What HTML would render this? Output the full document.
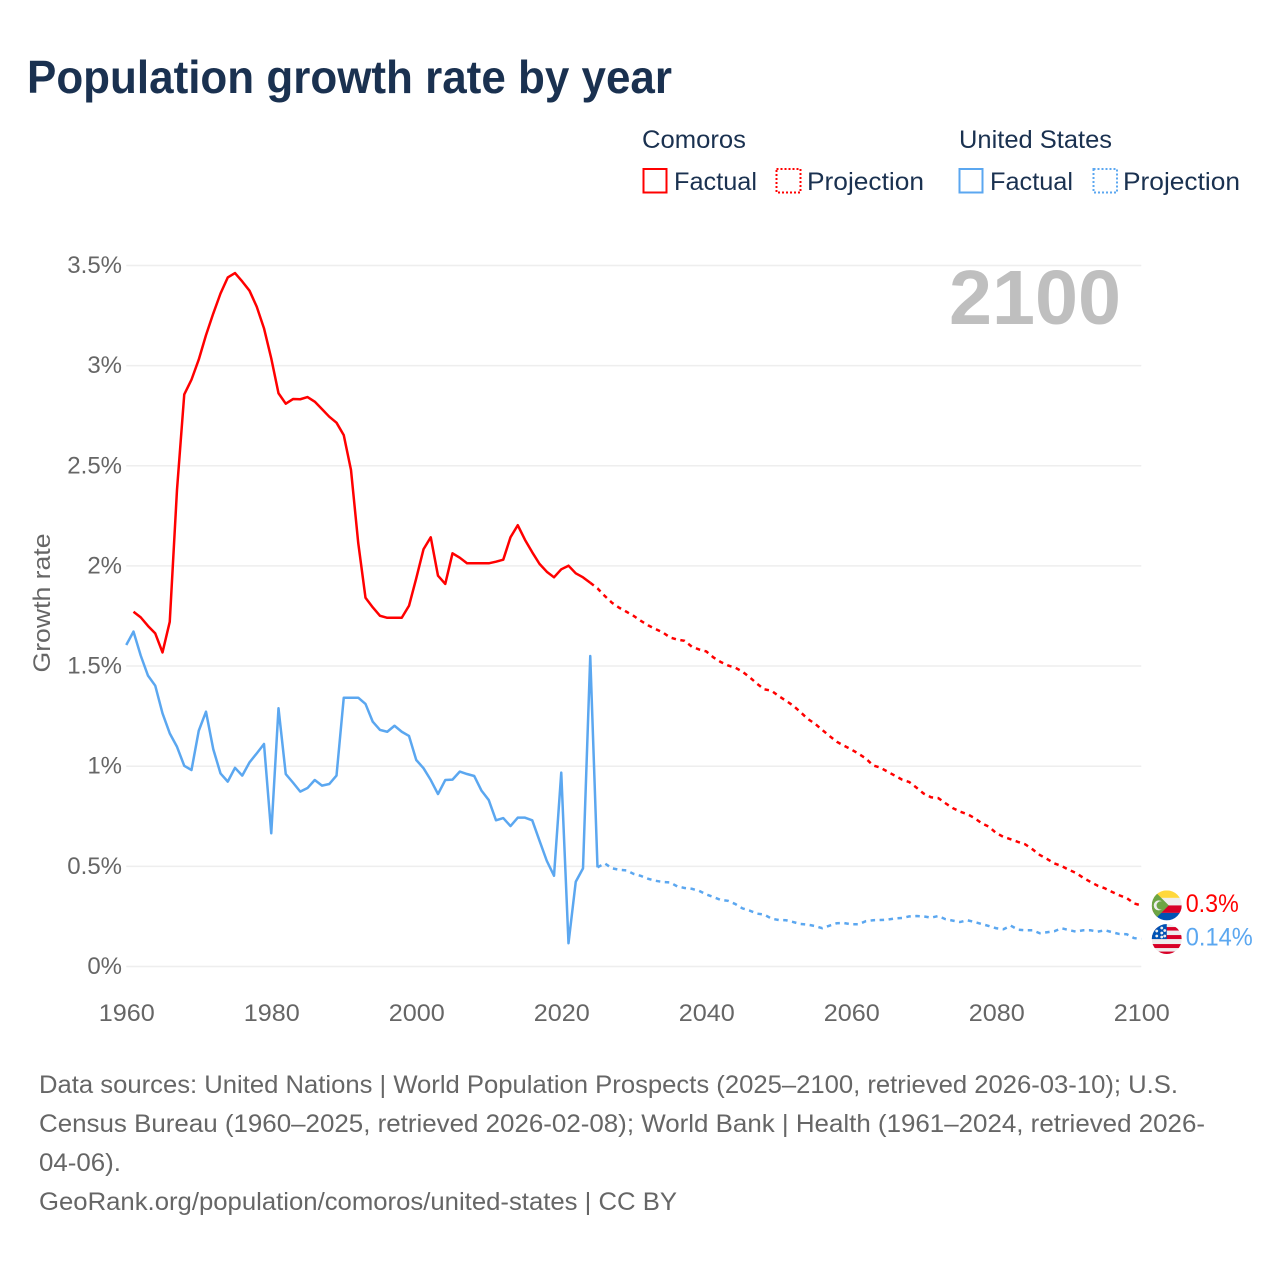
<!DOCTYPE html>
<html lang="en">
<head>
<meta charset="utf-8">
<title>Population growth rate by year</title>
<style>
html,body{margin:0;padding:0;background:#fff;width:1280px;height:1280px;overflow:hidden}
svg{display:block;font-family:"Liberation Sans",sans-serif}
</style>
</head>
<body>
<svg id="chart" xmlns="http://www.w3.org/2000/svg" width="1280" height="1280" viewBox="0 0 1280 1280">
  <defs>
    <clipPath id="flag-clip-a"><circle cx="0" cy="0" r="15"/></clipPath>
  </defs>
  <rect x="0" y="0" width="1280" height="1280" fill="#fff"/>
  <text x="27" y="93" font-size="46" font-weight="700" fill="#1a3150" textLength="645" lengthAdjust="spacingAndGlyphs">Population growth rate by year</text>

  <g font-size="25" fill="#1a3150">
    <text x="642" y="148" textLength="104" lengthAdjust="spacingAndGlyphs">Comoros</text>
    <text x="959" y="148" textLength="153" lengthAdjust="spacingAndGlyphs">United States</text>
    <g>
      <rect x="643.5" y="169" width="23" height="23.5" fill="none" stroke="#ff0000" stroke-width="2"/>
      <text x="674" y="190" textLength="83" lengthAdjust="spacingAndGlyphs">Factual</text>
    </g>
    <g>
      <rect x="776.5" y="169" width="24" height="23.5" fill="none" stroke="#ff0000" stroke-width="2" stroke-dasharray="2 2"/>
      <text x="807" y="190" textLength="117" lengthAdjust="spacingAndGlyphs">Projection</text>
    </g>
    <g>
      <rect x="959.5" y="169" width="23" height="23.5" fill="none" stroke="#5ba7f0" stroke-width="2"/>
      <text x="990" y="190" textLength="83" lengthAdjust="spacingAndGlyphs">Factual</text>
    </g>
    <g>
      <rect x="1093.5" y="169" width="23.5" height="23.5" fill="none" stroke="#5ba7f0" stroke-width="2" stroke-dasharray="2 2"/>
      <text x="1123" y="190" textLength="117" lengthAdjust="spacingAndGlyphs">Projection</text>
    </g>
  </g>

  <g id="grid"></g>
  <g id="y-ticks"></g>
  <g id="x-ticks"></g>

  <text transform="translate(50,603) rotate(-90)" text-anchor="middle" font-size="24" fill="#666" textLength="139" lengthAdjust="spacingAndGlyphs">Growth rate</text>
  <text x="949" y="324" font-size="77" font-weight="700" fill="#bfbfbf" textLength="172" lengthAdjust="spacingAndGlyphs">2100</text>

  <g id="series"></g>
  <g id="end-markers"></g>

  <g font-size="25" fill="#666">
    <text x="39" y="1093" textLength="1139" lengthAdjust="spacingAndGlyphs">Data sources: United Nations | World Population Prospects (2025–2100, retrieved 2026-03-10); U.S.</text>
    <text x="39" y="1132" textLength="1166" lengthAdjust="spacingAndGlyphs">Census Bureau (1960–2025, retrieved 2026-02-08); World Bank | Health (1961–2024, retrieved 2026-</text>
    <text x="39" y="1171" textLength="82" lengthAdjust="spacingAndGlyphs">04-06).</text>
    <text x="39" y="1210" textLength="638" lengthAdjust="spacingAndGlyphs">GeoRank.org/population/comoros/united-states | CC BY</text>
  </g>
</svg>

<script>
const yTickValues = [0, 0.5, 1, 1.5, 2, 2.5, 3, 3.5];
const yTickLabels = ["0%", "0.5%", "1%", "1.5%", "2%", "2.5%", "3%", "3.5%"];
const xTickYears = [1960, 1980, 2000, 2020, 2040, 2060, 2080, 2100];
const xTickLabels = ["1960", "1980", "2000", "2020", "2040", "2060", "2080", "2100"];

const comorosFactualStart = 1961;
const comorosFactual = [
  1.771, 1.743, 1.70, 1.663, 1.568, 1.721, 2.38, 2.856, 2.93, 3.03,
  3.152, 3.26, 3.36, 3.44, 3.462, 3.42, 3.374, 3.294, 3.186, 3.036,
  2.862, 2.81, 2.833, 2.832, 2.843, 2.82, 2.783, 2.745, 2.715, 2.653,
  2.479, 2.114, 1.841, 1.793, 1.751, 1.741, 1.741, 1.741, 1.801, 1.938,
  2.083, 2.143, 1.951, 1.91, 2.063, 2.041, 2.013, 2.013, 2.013, 2.013,
  2.021, 2.031, 2.143, 2.203, 2.13, 2.068, 2.01, 1.971, 1.943, 1.983,
  2.001, 1.963, 1.943, 1.916
];

const comorosProjectionStart = 2024;
const comorosProjection = [
  1.916, 1.888, 1.85, 1.816, 1.791, 1.771, 1.75, 1.725, 1.703, 1.685, 1.668,
  1.643, 1.632, 1.626, 1.597, 1.583, 1.573, 1.543, 1.52, 1.503, 1.492,
  1.472, 1.444, 1.412, 1.384, 1.377, 1.35, 1.327, 1.302, 1.27, 1.236,
  1.212, 1.181, 1.151, 1.122, 1.102, 1.084, 1.062, 1.039, 1.004, 0.993,
  0.973, 0.953, 0.933, 0.921, 0.893, 0.863, 0.845, 0.841, 0.815, 0.791,
  0.773, 0.761, 0.741, 0.715, 0.698, 0.666, 0.647, 0.635, 0.622, 0.61,
  0.585, 0.557, 0.537, 0.515, 0.502, 0.483, 0.467, 0.443, 0.422, 0.403,
  0.39, 0.372, 0.355, 0.342, 0.315, 0.305
];

const usFactualStart = 1960;
const usFactual = [
  1.605, 1.672, 1.552, 1.452, 1.402, 1.264, 1.164, 1.097, 1.002, 0.981,
  1.177, 1.272, 1.085, 0.964, 0.923, 0.992, 0.953, 1.019, 1.064, 1.111,
  0.665, 1.289, 0.961, 0.918, 0.873, 0.891, 0.931, 0.903, 0.911, 0.953,
  1.342, 1.342, 1.342, 1.311, 1.222, 1.181, 1.172, 1.202, 1.172, 1.151,
  1.031, 0.99, 0.931, 0.861, 0.931, 0.933, 0.973, 0.961, 0.951, 0.878,
  0.831, 0.73, 0.741, 0.701, 0.743, 0.743, 0.73, 0.628, 0.528, 0.453,
  0.968, 0.116, 0.423, 0.49, 1.55, 0.495
];

const usProjectionStart = 2025;
const usProjection = [
  0.495, 0.515, 0.49, 0.483, 0.48, 0.462, 0.452, 0.438, 0.428, 0.422,
  0.42, 0.40, 0.392, 0.388, 0.378, 0.36, 0.347, 0.332, 0.328, 0.312,
  0.29, 0.279, 0.264, 0.259, 0.239, 0.232, 0.231, 0.222, 0.212, 0.209,
  0.202, 0.191, 0.204, 0.216, 0.217, 0.211, 0.211, 0.226, 0.231, 0.232,
  0.234, 0.24, 0.242, 0.25, 0.252, 0.25, 0.244, 0.252, 0.236, 0.229,
  0.222, 0.231, 0.222, 0.212, 0.202, 0.191, 0.186, 0.204, 0.184, 0.181,
  0.181, 0.166, 0.171, 0.176, 0.191, 0.182, 0.174, 0.181, 0.181, 0.174,
  0.181, 0.171, 0.162, 0.161, 0.142, 0.137
];

const comorosEndLabel = "0.3%";
const usEndLabel = "0.14%";

const NS = 'http://www.w3.org/2000/svg';
const RED = '#ff0000';
const BLUE = '#5ba7f0';

function xScale(year) { return 126.25 + (year - 1960) * 7.25; }
function yScale(value) { return 966.5 - value * 200.3; }

function make(tag, attrs, parent) {
  const el = document.createElementNS(NS, tag);
  for (const k in attrs) el.setAttribute(k, attrs[k]);
  parent.appendChild(el);
  return el;
}

function pointsFor(values, startYear) {
  return values.map((v, i) => xScale(startYear + i).toFixed(2) + ',' + yScale(v).toFixed(2)).join(' ');
}

const grid = document.getElementById('grid');
const yTicks = document.getElementById('y-ticks');
const xTicks = document.getElementById('x-ticks');
const seriesGroup = document.getElementById('series');
const markers = document.getElementById('end-markers');

yTickValues.forEach((v, i) => {
  const line = make('line', { x1: xScale(1960), x2: xScale(2100), y1: yScale(v), y2: yScale(v), stroke: '#eeeeee', 'stroke-width': 1.5 }, grid);
  
  
  const t = make('text', { x: 122, y: yScale(v) + 7.5, 'text-anchor': 'end', 'font-size': 24, fill: '#666' }, yTicks);
  
  
  t.textContent = yTickLabels[i];
});

xTickYears.forEach((yr, i) => {
  const t = make('text', { x: xScale(yr) - 27.5, y: 1021, 'font-size': 24, fill: '#666', textLength: 56, lengthAdjust: 'spacingAndGlyphs' }, xTicks);
  
  
  t.textContent = xTickLabels[i];
});

const usFactualLine = make('polyline', { points: pointsFor(usFactual, usFactualStart), fill: 'none', stroke: BLUE, 'stroke-width': 2.5, 'stroke-linejoin': 'round' }, seriesGroup);



const usProjectionLine = make('polyline', { points: pointsFor(usProjection, usProjectionStart), fill: 'none', stroke: BLUE, 'stroke-width': 2.5, 'stroke-dasharray': '4.5 4.5' }, seriesGroup);



const comorosFactualLine = make('polyline', { points: pointsFor(comorosFactual, comorosFactualStart), fill: 'none', stroke: RED, 'stroke-width': 2.5, 'stroke-linejoin': 'round' }, seriesGroup);



const comorosProjectionLine = make('polyline', { points: pointsFor(comorosProjection, comorosProjectionStart), fill: 'none', stroke: RED, 'stroke-width': 2.5, 'stroke-dasharray': '4.5 4.5' }, seriesGroup);



/* End-of-line flags and value labels follow the last value of each series */
const flagX = xScale(2100) + 25.5;
const comorosY = yScale(comorosProjection[comorosProjection.length - 1]);
const usY = yScale(usProjection[usProjection.length - 1]);

const comorosFlag = make('g', { transform: 'translate(' + flagX + ',' + comorosY + ')', 'clip-path': 'url(#flag-clip-a)' }, markers);


make('rect', { x: -15, y: -15, width: 30, height: 7.5, fill: '#ffd83d' }, comorosFlag);
make('rect', { x: -15, y: -7.5, width: 30, height: 7.5, fill: '#eeeeee' }, comorosFlag);
make('rect', { x: -15, y: 0, width: 30, height: 7.5, fill: '#d80027' }, comorosFlag);
make('rect', { x: -15, y: 7.5, width: 30, height: 7.5, fill: '#0052b4' }, comorosFlag);
make('path', { d: 'M-15,-15 L-13,-15 L2,0 L-13,15 L-15,15 Z', fill: '#6da544' }, comorosFlag);
make('circle', { cx: -8, cy: 0, r: 5, fill: '#eeeeee' }, comorosFlag);
make('circle', { cx: -6, cy: 0, r: 4.2, fill: '#6da544' }, comorosFlag);

const usFlag = make('g', { transform: 'translate(' + flagX + ',' + usY + ')', 'clip-path': 'url(#flag-clip-a)' }, markers);


make('rect', { x: -15, y: -15, width: 30, height: 30, fill: '#eeeeee' }, usFlag);
make('rect', { x: -15, y: -12, width: 30, height: 3.5, fill: '#d80027' }, usFlag);
make('rect', { x: -15, y: -4, width: 30, height: 4, fill: '#d80027' }, usFlag);
make('rect', { x: -15, y: 5, width: 30, height: 4, fill: '#d80027' }, usFlag);
make('rect', { x: -15, y: 12.5, width: 30, height: 3, fill: '#d80027' }, usFlag);
make('rect', { x: -15, y: -15, width: 15, height: 15, fill: '#0052b4' }, usFlag);
[[-10, -8], [-5, -11], [-5, -6], [-10, -3], [-5, -2], [-2, -8.5], [-2, -3]].forEach(p => {
  make('circle', { cx: p[0], cy: p[1], r: 1.4, fill: '#eeeeee' }, usFlag);
});

const comorosLabel = make('text', { x: flagX + 19, y: comorosY + 6.5, 'font-size': 25, fill: RED, textLength: 53, lengthAdjust: 'spacingAndGlyphs' }, markers);


comorosLabel.textContent = comorosEndLabel;

const usLabel = make('text', { x: flagX + 19, y: usY + 6.5, 'font-size': 25, fill: BLUE, textLength: 67, lengthAdjust: 'spacingAndGlyphs' }, markers);


usLabel.textContent = usEndLabel;
</script>
</body>
</html>
